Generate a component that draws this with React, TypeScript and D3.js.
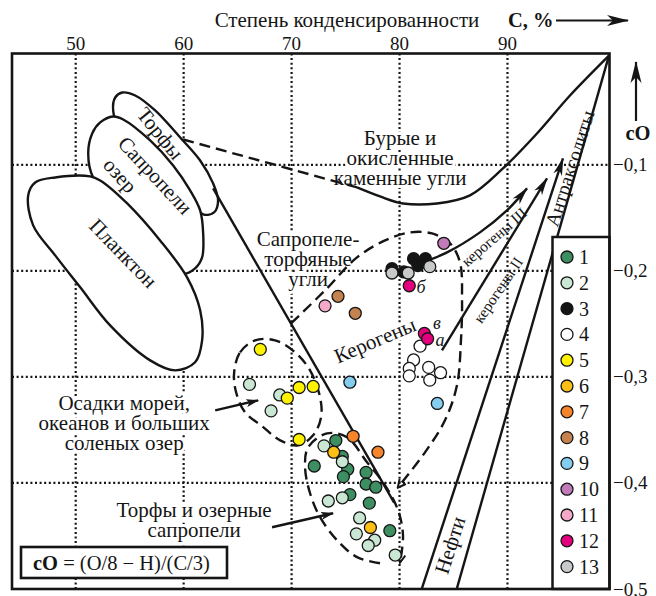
import React from "react";
import * as d3 from "d3";

type Pt = [number, number];

// Axis ticks: C, % (top) and cO (right)
const cTicks = [50, 60, 70, 80, 90];
const coTicks = [-0.1, -0.2, -0.3, -0.4, -0.5];
const coGrid = [-0.1, -0.2, -0.3, -0.4];

// Sample groups shown in the legend
const groupLabels = ["1", "2", "3", "4", "5", "6", "7", "8", "9", "10", "11", "12", "13"];
const groupColors = [
  "#3d8f62", "#c9e7d2", "#141414", "#ffffff", "#fff200", "#fcbf16", "#f5842a",
  "#c4824f", "#84cdef", "#c07bb8", "#f4a9c9", "#e3007d", "#c8c9cb",
];

// Sample values: [C, cO]
const g1: Pt[] = [[74.1, -0.360], [74.7, -0.375], [75.2, -0.387], [72.1, -0.384], [74.8, -0.394], [76.9, -0.390], [76.9, -0.401], [77.8, -0.404], [75.4, -0.411], [77.2, -0.419], [79.1, -0.445]];
const g2: Pt[] = [[66.1, -0.307], [68.9, -0.317], [68.1, -0.332], [73.0, -0.365], [74.7, -0.380], [74.7, -0.414], [73.4, -0.417], [76.3, -0.433], [76.0, -0.448], [77.7, -0.454], [77.1, -0.459], [79.6, -0.468]];
const g3: Pt[] = [[79.3, -0.198], [80.4, -0.201], [81.3, -0.1885], [82.4, -0.1885], [81.7, -0.195]];
const g4: Pt[] = [[81.9, -0.271], [81.3, -0.284], [80.9, -0.292], [80.9, -0.299], [82.7, -0.291], [83.8, -0.296], [82.8, -0.303]];
const g5: Pt[] = [[67.1, -0.274], [70.7, -0.310], [72.0, -0.309], [69.6, -0.320], [70.7, -0.359]];
const g6: Pt[] = [[73.9, -0.371], [77.3, -0.442]];
const g7: Pt[] = [[75.7, -0.356], [78.0, -0.371]];
const g8: Pt[] = [[74.3, -0.224], [75.9, -0.240]];
const g9: Pt[] = [[75.4, -0.305], [83.5, -0.325]];
const g10: Pt[] = [[84.1, -0.174]];
const g11: Pt[] = [[73.1, -0.233]];
const g12: Pt[] = [[80.9, -0.214], [82.3, -0.259], [82.6, -0.264]];
const g13: Pt[] = [[79.3, -0.202], [80.8, -0.202], [82.8, -0.196]];
const groups = [g1, g2, g3, g4, g5, g6, g7, g8, g9, g10, g11, g12, g13];

// Source-material fields (closed outlines in C / cO space)
const peatField: Pt[] = [[53.66, -0.0365], [54.31, -0.0318], [55.51, -0.0346], [57.36, -0.0487], [59.68, -0.0742], [61.53, -0.0959], [62.73, -0.1175], [63.19, -0.1336], [62.82, -0.1449], [61.81, -0.1467], [60.14, -0.1288], [56.9, -0.0911], [53.94, -0.0629], [53.47, -0.0487]];
const sapropelField: Pt[] = [[51.62, -0.1119], [51.16, -0.0893], [51.53, -0.0704], [52.27, -0.06], [53.47, -0.0544], [54.4, -0.0572], [56.9, -0.077], [59.03, -0.1006], [60.6, -0.1241], [61.53, -0.143], [61.81, -0.1647], [61.71, -0.1873], [61.06, -0.1976], [59.95, -0.2024], [56.9, -0.1665], [53.19, -0.1288]];
const planktonField: Pt[] = [[45.6, -0.1288], [46.25, -0.1166], [48.1, -0.1119], [51.34, -0.1109], [52.27, -0.1147], [54.77, -0.1364], [57.82, -0.1713], [60.32, -0.2061], [61.53, -0.2372], [61.71, -0.2655], [61.06, -0.2862], [59.21, -0.2938], [56.9, -0.2844], [53.19, -0.2514], [50.42, -0.2155], [48.1, -0.1854], [46.06, -0.1571]];

// Coal-field boundary
const brownCoalDashed: Pt[] = [[59.95, -0.0761], [68.01, -0.0987], [76.06, -0.1213]];
const brownCoalSolid: Pt[] = [[76.06, -0.1213], [78.19, -0.1298], [80.32, -0.1364], [83.47, -0.1364], [86.53, -0.1288], [89.58, -0.1034], [92.73, -0.0704], [95.79, -0.0346], [99.4, 0.003]];
const sapropelCoalLine: Pt[] = [[62.73, -0.1222], [79.5, -0.4185]];
const oilLeft: Pt[] = [[82.08, -0.4992], [95.14, -0.094]];
const oilRight: Pt[] = [[85.32, -0.4992], [99.4, 0.003]];

// Kerogen maturation paths
const kerogen3: Pt[] = [[81.9, -0.1929], [84.4, -0.1826], [87.45, -0.1637], [89.95, -0.143], [91.81, -0.1222]];
const kerogen2: Pt[] = [[83.93, -0.2749], [93.66, -0.1128]];

// Dashed outlines of sample regions
const kerogenRegion: Pt[] = [[69.95, -0.2495], [73.1, -0.2184], [76.06, -0.1873], [78.66, -0.1713], [80.97, -0.1637], [83.01, -0.1647], [84.68, -0.1741], [85.6, -0.192], [85.79, -0.2278], [85.69, -0.2655], [85.32, -0.3079], [84.21, -0.3409], [82.36, -0.3711], [79.86, -0.4041]];
const marineRegion: Pt[] = [[64.68, -0.2957], [65.23, -0.2768], [66.62, -0.2655], [68.47, -0.2655], [70.32, -0.2768], [71.71, -0.2938], [72.64, -0.3192], [72.73, -0.3381], [71.99, -0.3551], [70.6, -0.3645], [68.94, -0.3598], [67.27, -0.3465], [65.69, -0.3334], [64.86, -0.3145]];
const peatRegion: Pt[] = [[78.19, -0.4757], [76.06, -0.47], [74.21, -0.454], [72.64, -0.4323], [71.71, -0.4097], [71.25, -0.3852], [71.53, -0.3664], [73.29, -0.3532], [75.14, -0.3569], [76.99, -0.3805], [78.66, -0.4022], [79.86, -0.4257], [80.32, -0.4493], [80.05, -0.4747]];
const marinePointer: Pt[] = [[62.92, -0.3315], [66.9, -0.3221]];
const peatPointer: Pt[] = [[68.19, -0.4418], [73.84, -0.4286]];

const W = 656;
const H = 596;
const FRAME = { left: 12, right: 609.5, top: 53.5, bottom: 589 };
const FONT = '"Liberation Serif", "DejaVu Serif", serif';
const INK = "#151515";

const x = d3.scaleLinear().domain([44.1, 99.45]).range([FRAME.left, FRAME.right]);
const y = d3.scaleLinear().domain([0.005, -0.5]).range([FRAME.top, FRAME.bottom]);

const straight = d3.line<Pt>().x((d) => x(d[0])).y((d) => y(d[1]));
const smooth = d3.line<Pt>().x((d) => x(d[0])).y((d) => y(d[1])).curve(d3.curveCatmullRom.alpha(0.5));
const closed = d3.line<Pt>().x((d) => x(d[0])).y((d) => y(d[1])).curve(d3.curveCatmullRomClosed.alpha(0.5));

const halo = { stroke: "#fff", strokeWidth: 6, paintOrder: "stroke" as const, strokeLinejoin: "round" as const };

function Lines({ at, lines, size = 21, lh = 20 }: { at: Pt; lines: string[]; size?: number; lh?: number }) {
  const px = x(at[0]);
  const py = y(at[1]);
  return (
    <text x={px} y={py} fontSize={size} textAnchor="middle" fill={INK} style={halo}>
      {lines.map((l, i) => (
        <tspan key={i} x={px} dy={i === 0 ? 0 : lh}>{l}</tspan>
      ))}
    </text>
  );
}

function Rotated({ at, text, rot, size = 21, italic = false, white = true }: { at: Pt; text: string; rot: number; size?: number; italic?: boolean; white?: boolean }) {
  const px = x(at[0]);
  const py = y(at[1]);
  return (
    <text x={px} y={py} fontSize={size} textAnchor="middle" dominantBaseline="central"
      fontStyle={italic ? "italic" : "normal"} fill={INK}
      transform={`rotate(${rot},${px},${py})`} style={white ? halo : undefined}>
      {text}
    </text>
  );
}

export default function App() {
  const legendTop = 237;
  const legendStep = 25.8;
  return (
    <svg width={W} height={H} viewBox={`0 0 ${W} ${H}`}
      style={{ position: "absolute", left: 0, top: 0, background: "#fff", fontFamily: FONT }}>
      <defs>
        <marker id="arrowFill" viewBox="0 0 18 10" refX="17" refY="5" markerWidth="18" markerHeight="10" markerUnits="userSpaceOnUse" orient="auto">
          <path d="M0,0.5 L18,5 L0,9.5 L5,5 Z" fill={INK} />
        </marker>
        <marker id="arrowSmall" viewBox="0 0 13 9" refX="12" refY="4.5" markerWidth="13" markerHeight="9" markerUnits="userSpaceOnUse" orient="auto">
          <path d="M0,0.5 L13,4.5 L0,8.5 L3,4.5 Z" fill={INK} />
        </marker>
        <marker id="arrowAxis" viewBox="0 0 22 12" refX="21" refY="6" markerWidth="22" markerHeight="12" markerUnits="userSpaceOnUse" orient="auto">
          <path d="M0,0.5 L22,6 L0,11.5 L6,6 Z" fill={INK} />
        </marker>
        <marker id="chevron" viewBox="0 0 10 10" refX="8.5" refY="5" markerWidth="10" markerHeight="10" markerUnits="userSpaceOnUse" orient="auto">
          <path d="M1,1 L9,5 L1,9" fill="none" stroke={INK} strokeWidth={2} strokeDasharray="none" />
        </marker>
      </defs>

      {/* dotted grid */}
      <g stroke={INK} strokeWidth={2.2} strokeDasharray="2 2.6">
        {cTicks.map((t) => (
          <line key={`v${t}`} x1={x(t)} x2={x(t)} y1={FRAME.top} y2={FRAME.bottom} />
        ))}
        {coGrid.map((t) => (
          <line key={`h${t}`} x1={FRAME.left} x2={FRAME.right} y1={y(t)} y2={y(t)} />
        ))}
      </g>

      {/* top axis */}
      <text x={347} y={27} fontSize={21} textAnchor="middle" fill={INK}>Степень конденсированности</text>
      <text x={508} y={27} fontSize={20.5} fontWeight="bold" fill={INK}>C, %</text>
      <line x1={556} x2={628} y1={20.5} y2={20.5} stroke={INK} strokeWidth={2.2} markerEnd="url(#arrowAxis)" />
      {cTicks.map((t) => (
        <text key={t} x={x(t)} y={50} fontSize={19} textAnchor="middle" fill={INK}>{t}</text>
      ))}

      {/* right axis */}
      <line x1={636} x2={636} y1={121} y2={62} stroke={INK} strokeWidth={2.2} markerEnd="url(#arrowAxis)" />
      <text x={638} y={140} fontSize={20.5} fontWeight="bold" textAnchor="middle" fill={INK}>cO</text>
      {coTicks.map((t) => (
        <text key={t} x={613} y={y(t)} fontSize={19} dominantBaseline="central" fill={INK}>
          {"−" + Math.abs(t).toFixed(1).replace(".", ",")}
        </text>
      ))}

      {/* source-material fields */}
      <g fill="#fff" stroke={INK} strokeWidth={2.4}>
        <path d={closed(peatField) || ""} />
        <path d={closed(sapropelField) || ""} />
        <path d={closed(planktonField) || ""} />
      </g>
      <Rotated at={[57.82, -0.0704]} text="Торфы" rot={51} white={false} />
      <Rotated at={[57.36, -0.110]} text="Сапропели" rot={47} white={false} />
      <Rotated at={[54.12, -0.110]} text="озер" rot={48} white={false} />
      <Rotated at={[54.4, -0.1835]} text="Планктон" rot={46} white={false} />

      {/* region names */}
      <Lines at={[80.05, -0.0812]} lines={["Бурые и", "окисленные", "каменные угли"]} />
      <Lines at={[71.53, -0.1764]} lines={["Сапропеле-", "торфяные", "угли"]} />
      <Rotated at={[77.73, -0.2655]} text="Керогены" rot={-23} />
      <Lines at={[54.49, -0.3310]} lines={["Осадки морей,", "океанов и больших", "соленых озер"]} />
      <Lines at={[60.97, -0.4318]} lines={["Торфы и озерные", "сапропели"]} />

      {/* boundaries */}
      <g fill="none" stroke={INK} strokeWidth={2.4}>
        <path d={straight(brownCoalDashed) || ""} strokeDasharray="11 6" />
        <path d={smooth(brownCoalSolid) || ""} />
        <path d={straight(sapropelCoalLine) || ""} />
        <path d={straight(oilLeft) || ""} markerEnd="url(#arrowFill)" />
        <path d={straight(oilRight) || ""} />
        <path d={smooth(kerogen3) || ""} markerEnd="url(#arrowFill)" />
        <path d={straight(kerogen2) || ""} markerEnd="url(#arrowFill)" />
        <path d={smooth(kerogenRegion) || ""} strokeDasharray="11 6" markerEnd="url(#chevron)" />
        <path d={closed(marineRegion) || ""} strokeDasharray="11 6" />
        <path d={smooth(peatRegion) || ""} strokeDasharray="11 6" markerEnd="url(#chevron)" />
        <path d={straight(marinePointer) || ""} markerEnd="url(#arrowSmall)" />
        <path d={straight(peatPointer) || ""} markerEnd="url(#arrowSmall)" />
      </g>

      {/* labels along the paths */}
      <Rotated at={[88.75, -0.168]} text="керогены III" rot={-41} size={15.5} white={false} />
      <Rotated at={[89.12, -0.218]} text="керогены II" rot={-56} size={15.5} white={false} />
      <Rotated at={[95.79, -0.1034]} text="Антраксолиты" rot={-72} size={19.5} white={false} />
      <Rotated at={[84.68, -0.4587]} text="Нефти" rot={-72} size={21} white={false} />

      {/* samples */}
      <g stroke={INK} strokeWidth={1.3}>
        {groups.map((g, gi) =>
          g.map((d, i) => (
            <circle key={`${gi}-${i}`} cx={x(d[0])} cy={y(d[1])} r={6} fill={groupColors[gi]} />
          ))
        )}
      </g>
      <Rotated at={[82.0, -0.2156]} text="б" rot={0} size={18} italic white={false} />
      <Rotated at={[83.47, -0.2495]} text="в" rot={0} size={18} italic white={false} />
      <Rotated at={[83.75, -0.2655]} text="а" rot={0} size={18} italic white={false} />

      {/* legend */}
      <rect x={552.5} y={legendTop} width={FRAME.right - 552.5} height={FRAME.bottom - legendTop} fill="#fff" stroke={INK} strokeWidth={2.5} />
      {groupLabels.map((lab, i) => {
        const cy = legendTop + 20 + i * legendStep;
        return (
          <g key={lab}>
            <circle cx={567} cy={cy} r={6} fill={groupColors[i]} stroke={INK} strokeWidth={1.3} />
            <text x={579} y={cy} fontSize={20} dominantBaseline="central" fill={INK}>{lab}</text>
          </g>
        );
      })}

      {/* formula */}
      <rect x={21} y={547} width={206} height={31} fill="#fff" stroke={INK} strokeWidth={2.6} />
      <text x={33} y={569.5} fontSize={20.5} fill={INK}>
        <tspan fontWeight="bold">cO</tspan>
        <tspan> = (O/8 − H)/(C/3)</tspan>
      </text>

      {/* frame */}
      <rect x={FRAME.left} y={FRAME.top} width={FRAME.right - FRAME.left} height={FRAME.bottom - FRAME.top} fill="none" stroke={INK} strokeWidth={2.6} />
    </svg>
  );
}
